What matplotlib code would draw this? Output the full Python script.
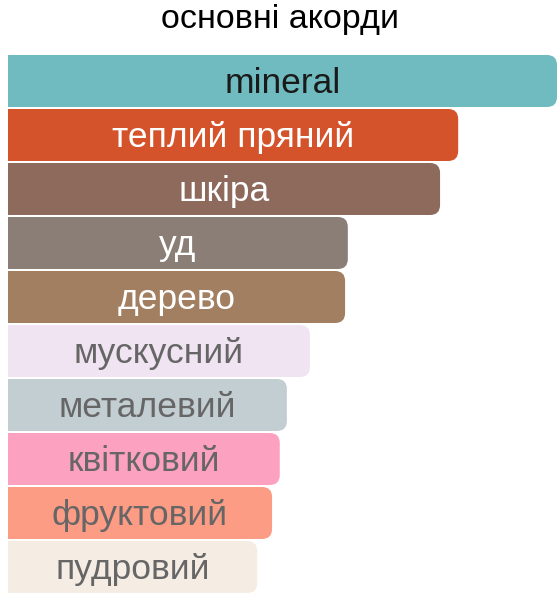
import matplotlib
matplotlib.use('Agg')
import matplotlib.pyplot as plt
from matplotlib.patches import FancyBboxPatch, Rectangle

plt.rcParams['font.family'] = ['Liberation Sans', 'DejaVu Sans']

accords = ['mineral', 'теплий пряний', 'шкіра', 'уд', 'дерево',
           'мускусний', 'металевий', 'квітковий', 'фруктовий', 'пудровий']
values = [100, 82.0, 78.7, 61.9, 61.4, 55.0, 50.8, 49.5, 48.1, 45.4]
bar_colors = ['#6fbbbf', '#d5532a', '#8e6a5d', '#8a7e76', '#a37f61',
              '#f1e4f2', '#c3ced3', '#fda1c0', '#fd9c84', '#f5ede4']
text_colors = ['#1a1a1a', 'white', 'white', 'white', 'white',
               '#666666', '#666666', '#666666', '#666666', '#666666']

W, H = 560, 600
fig = plt.figure(figsize=(W / 100, H / 100), dpi=100)
ax = fig.add_axes([8 / W, 6 / H, 552 / W, 540 / H])
xmax = 100 * 552 / 549
ax.set_xlim(0, xmax)
ax.set_ylim(len(accords) - 0.5, -0.5)
ax.axis('off')

px_x = 552 / xmax          # pixels per x unit
px_y = 540 / len(accords)  # pixels per y unit
radius = 10 / px_x
aspect = px_x / px_y
bh = 52 / 54

for i, (name, v) in enumerate(zip(accords, values)):
    y0 = i - bh / 2
    ax.add_patch(FancyBboxPatch((0, y0), v, bh,
                                boxstyle='round,pad=0,rounding_size=%f' % radius,
                                mutation_aspect=aspect,
                                facecolor=bar_colors[i], edgecolor='none'))
    ax.add_patch(Rectangle((0, y0), v / 2, bh, facecolor=bar_colors[i],
                           edgecolor='none'))
    ax.text(v / 2, i + 0.22, name, ha='center', va='baseline',
            fontsize=25.5, color=text_colors[i])

fig.text(0.5, 1 - 28 / H, 'основні акорди', ha='center', va='baseline',
         fontsize=24.5, color='black')

fig.savefig('out.png', dpi=100)
